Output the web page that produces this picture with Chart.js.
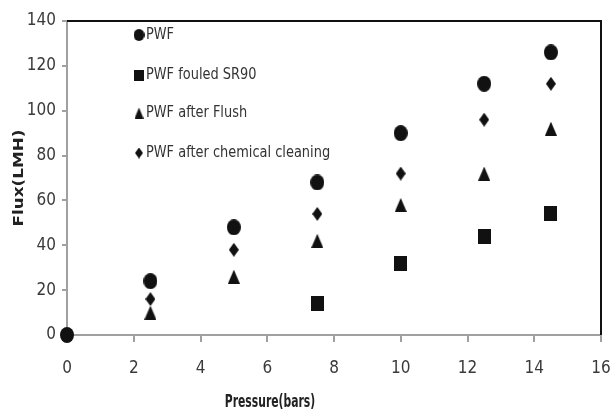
<!DOCTYPE html>
<html>
<head>
<meta charset="utf-8">
<script src="https://cdn.jsdelivr.net/npm/chart.js@4"></script>
<style>
  body { margin: 0; background: #fff; }
  #wrap { width: 614px; height: 414px; position: relative; }
</style>
</head>
<body>
<div id="wrap"><canvas id="fluxChart" width="614" height="414"></canvas></div>
<script>
const seriesNames = ['PWF', 'PWF fouled SR90', 'PWF after Flush', 'PWF after chemical cleaning'];
const pwfX = [0, 2.5, 5, 7.5, 10, 12.5, 14.5];
const pwfY = [0, 24, 48, 68, 90, 112, 126];
const fouledX = [7.5, 10, 12.5, 14.5];
const fouledY = [14, 32, 44, 54];
const flushX = [2.5, 5, 7.5, 10, 12.5, 14.5];
const flushY = [10, 26, 42, 58, 72, 92];
const chemX = [2.5, 5, 7.5, 10, 12.5, 14.5];
const chemY = [16, 38, 54, 72, 96, 112];
const xTicks = [0, 2, 4, 6, 8, 10, 12, 14, 16];
const yTicks = [0, 20, 40, 60, 80, 100, 120, 140];

const FONT = '"DejaVu Sans Condensed", "Liberation Sans Narrow", sans-serif';
const markColor = '#111';

function makeShape(w, h, draw) {
    const c = document.createElement('canvas');
    c.width = w;
    c.height = h;
    const g = c.getContext('2d');
    g.fillStyle = markColor;
    draw(g, w, h);
    return c;
}

function diamond(w, h) {
    return makeShape(w, h, (g) => {
        g.beginPath();
        g.moveTo(w / 2, 0);
        g.lineTo(w, h / 2);
        g.lineTo(w / 2, h);
        g.lineTo(0, h / 2);
        g.closePath();
        g.fill();
    });
}
function triangle(w, h) {
    return makeShape(w, h, (g) => {
        g.beginPath();
        g.moveTo(w / 2, 0);
        g.lineTo(w, h);
        g.lineTo(0, h);
        g.closePath();
        g.fill();
    });
}
function ellipse(w, h) {
    return makeShape(w, h, (g) => {
        g.beginPath();
        g.ellipse(w / 2, h / 2, w / 2, h / 2, 0, 0, Math.PI * 2);
        g.fill();
    });
}
function box(w, h) {
    return makeShape(w, h, (g) => g.fillRect(0, 0, w, h));
}

const pointShapes = [ellipse(14, 16), box(13, 15), triangle(12, 14), diamond(10, 14)];
const legendShapes = [ellipse(11, 12), box(10, 11), triangle(9, 11), diamond(8, 11)];

function toPoints(xs, ys) {
    return xs.map((x, i) => ({ x: x, y: ys[i] }));
}

const frameAndLegend = {
    id: 'frameAndLegend',
    afterDraw(chart) {
        const ctx = chart.ctx;
        const a = chart.chartArea;
        ctx.save();
        // top and right black frame
        ctx.strokeStyle = '#111';
        ctx.lineWidth = 2;
        ctx.beginPath();
        ctx.moveTo(a.left, a.top);
        ctx.lineTo(a.right, a.top);
        ctx.lineTo(a.right, a.bottom);
        ctx.stroke();

        // legend inside plot
        const rowsY = [35, 75, 113, 153];
        ctx.font = '15px ' + FONT;
        ctx.fillStyle = '#333';
        ctx.textBaseline = 'middle';
        ctx.textAlign = 'left';
        seriesNames.forEach((name, i) => {
            const img = legendShapes[i];
            ctx.drawImage(img, 139 - img.width / 2, rowsY[i] - img.height / 2);
            ctx.save();
            ctx.translate(146, rowsY[i]);
            ctx.scale(0.96, 1.1);
            ctx.fillText(name, 0, 0);
            ctx.restore();
        });

        // axis titles
        ctx.fillStyle = '#222';
        ctx.textAlign = 'center';
        ctx.save();
        ctx.translate(270, 403);
        ctx.scale(0.8, 1.15);
        ctx.font = 'bold 15px ' + FONT;
        ctx.fillText('Pressure(bars)', 0, 0);
        ctx.restore();

        ctx.translate(19, 178);
        ctx.rotate(-Math.PI / 2);
        ctx.scale(1.2, 1);
        ctx.font = 'bold 14px "DejaVu Sans", sans-serif';
        ctx.fillText('Flux(LMH)', 0, 0);
        ctx.restore();
    }
};

const ctx = document.getElementById('fluxChart').getContext('2d');
const fluxChart = new Chart(ctx, {
    type: 'scatter',
    data: {
        datasets: [
            { label: seriesNames[0], data: toPoints(pwfX, pwfY), pointStyle: pointShapes[0] },
            { label: seriesNames[1], data: toPoints(fouledX, fouledY), pointStyle: pointShapes[1] },
            { label: seriesNames[2], data: toPoints(flushX, flushY), pointStyle: pointShapes[2] },
            { label: seriesNames[3], data: toPoints(chemX, chemY), pointStyle: pointShapes[3] }
        ]
    },
    options: {
        responsive: false,
        animation: false,
        clip: false,
        layout: { padding: { top: 21, right: 13, left: 0, bottom: 0 } },
        plugins: {
            legend: { display: false },
            tooltip: { enabled: false }
        },
        scales: {
            x: {
                type: 'linear',
                min: 0,
                max: 16,
                afterBuildTicks: (scale) => { scale.ticks = xTicks.map(v => ({ value: v })); },
                afterFit: (scale) => {
                    scale.height = 79;
                    scale.paddingLeft = 0;
                    scale.paddingRight = 0;
                },
                border: { color: '#a0a0a0', width: 2 },
                grid: { drawOnChartArea: false, drawTicks: true, tickLength: 7, color: '#a0a0a0', lineWidth: 2 },
                ticks: { color: '#3a3a3a', font: { family: FONT, size: 17 }, padding: 16 }
            },
            y: {
                type: 'linear',
                min: 0,
                max: 140,
                afterBuildTicks: (scale) => { scale.ticks = yTicks.map(v => ({ value: v })); },
                afterFit: (scale) => {
                    scale.width = 67;
                    scale.paddingTop = 0;
                    scale.paddingBottom = 0;
                },
                border: { color: '#a0a0a0', width: 2 },
                grid: { drawOnChartArea: false, drawTicks: true, tickLength: 5, color: '#a0a0a0', lineWidth: 2 },
                ticks: { color: '#3a3a3a', font: { family: FONT, size: 17 }, padding: 6 }
            }
        }
    },
    plugins: [frameAndLegend]
});
</script>
</body>
</html>
